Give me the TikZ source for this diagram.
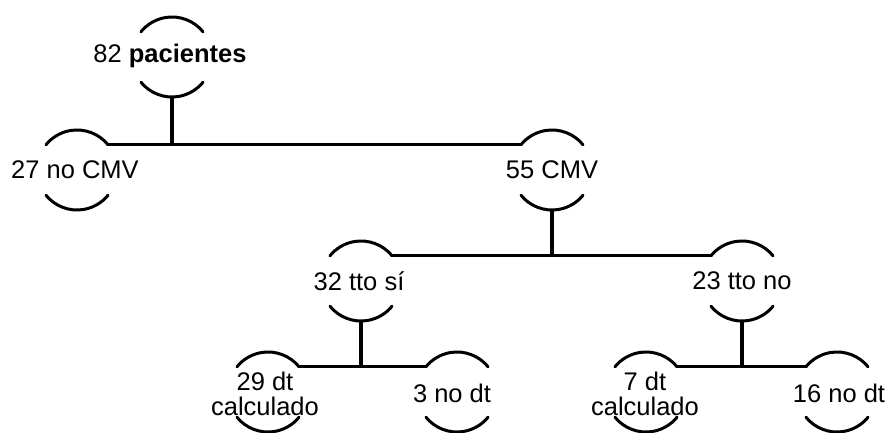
\documentclass[tikz,border=0pt]{standalone}
\usepackage{fontspec}
\setmainfont{Liberation Sans}
\begin{document}
\begin{tikzpicture}[x=1pt,y=1pt,
  hub/.style={circle, minimum size=80pt, inner sep=0pt, outer sep=0pt},
  txt/.style={font=\fontsize{25.5}{25}\selectfont, align=center, inner sep=0pt},
  arcline/.style={line width=3pt, line cap=round},
  conn/.style={line width=3pt},
  stem/.style={line width=3.6pt}]
\fill[white] (0,0) rectangle (887,432);
\useasboundingbox (0,0) rectangle (887,432);
% circular holders
\node[hub] (n1) at (172,375) {};
\node[hub] (n2) at (77,262) {};
\node[hub] (n3) at (552,262) {};
\node[hub] (n4) at (361,151) {};
\node[hub] (n5) at (742,151) {};
\node[hub] (n6) at (268,40) {};
\node[hub] (n7) at (457,40) {};
\node[hub] (n8) at (646,40) {};
\node[hub] (n9) at (837,40) {};
% texts
\node[txt] (t1) at (170,376) {82 \textbf{pacientes}};
\node[txt] (t2) at (75,262) {27 no CMV};
\node[txt] (t3) at (552,262) {55 CMV};
\node[txt] (t4) at (359,151) {32 tto sí};
\node[txt] (t5) at (742,151) {23 tto no};
\node[txt] (t6) at (265,38) {29 dt\\calculado};
\node[txt] (t7) at (452,39) {3 no dt};
\node[txt] (t8) at (645,38) {7 dt\\calculado};
\node[txt] (t9) at (839,39) {16 no dt};
% arcs
\foreach \n in {n1,n2,n3,n4,n5,n6,n7,n8,n9}{
  \draw[arcline] (\n.39) arc[start angle=39,end angle=141,radius=40pt];
  \draw[arcline] (\n.219) arc[start angle=219,end angle=321,radius=40pt];
}
% connectors
\draw[conn] (n2.39) -- (n3.141);
\draw[stem] (n1.south) -- (n1.south |- n2.39);
\draw[conn] (n4.39) -- (n5.141);
\draw[stem] (n3.south) -- (n3.south |- n4.39);
\draw[conn] (n6.39) -- (n7.141);
\draw[stem] (n4.south) -- (n4.south |- n6.39);
\draw[conn] (n8.39) -- (n9.141);
\draw[stem] (n5.south) -- (n5.south |- n8.39);
\end{tikzpicture}
\end{document}
